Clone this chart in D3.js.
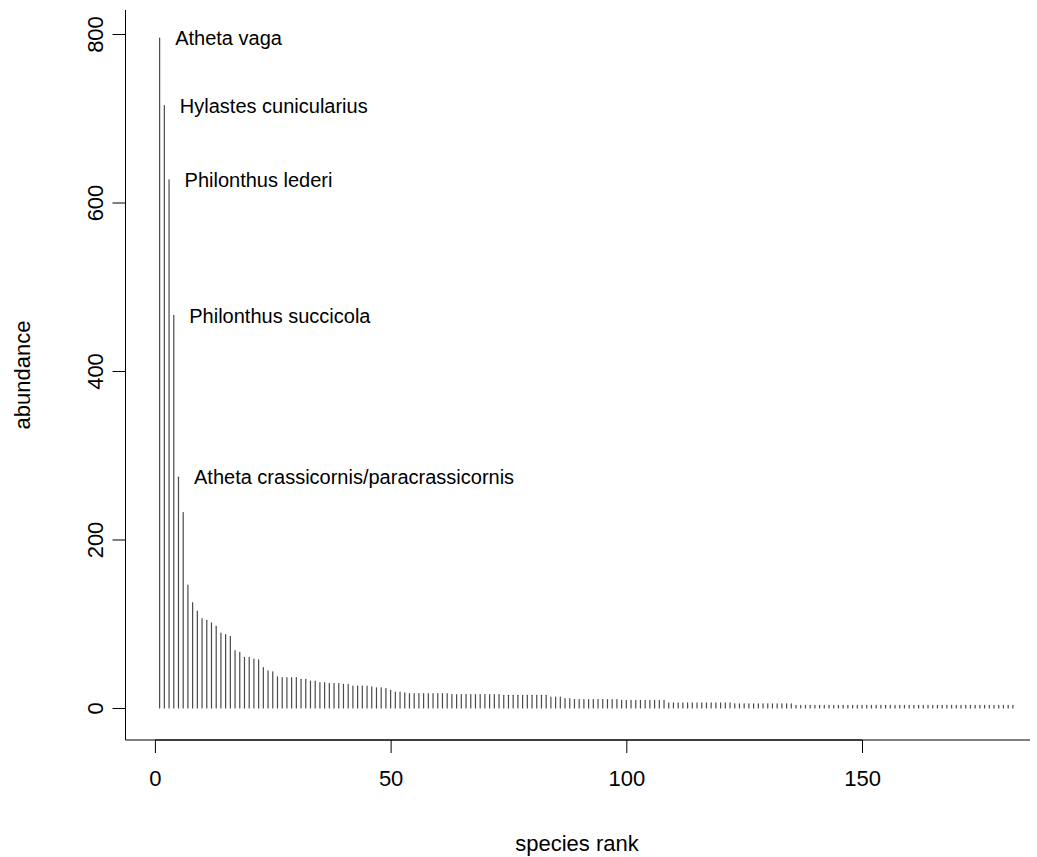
<!DOCTYPE html>
<html>
<head>
<meta charset="utf-8">
<script src="https://cdn.jsdelivr.net/npm/d3@7"></script>
<style>
  html, body { margin: 0; padding: 0; background: #fff; }
  svg { display: block; }
  text { font-family: "Liberation Sans", Arial, Helvetica, sans-serif; fill: #000; }
</style>
</head>
<body>
<svg id="chart" width="1037" height="857"></svg>
<script>
// ---- data ----
const abundance = [
  795, 715, 627, 466, 274, 232, 146, 125, 115, 106,
  104, 101, 97, 89, 87, 85, 68, 66, 60, 60,
  58, 57, 48, 44, 43, 37, 36, 36, 36, 36,
  34, 34, 32, 32, 30, 30, 29, 29, 29, 28,
  28, 26, 26, 26, 26, 25, 24, 24, 23, 21,
  19, 19, 18, 17, 17, 17, 17, 17, 17, 17,
  17, 17, 16, 16, 16, 16, 16, 16, 16, 16,
  16, 16, 16, 15, 15, 15, 15, 15, 15, 15,
  15, 15, 15, 13, 13, 13, 11, 11, 10, 10,
  10, 10, 10, 10, 10, 10, 10, 10, 9, 9,
  9, 9, 9, 9, 9, 9, 9, 9, 6, 6,
  6, 6, 6, 6, 6, 6, 6, 6, 6, 6,
  6, 6, 5, 5, 5, 5, 5, 5, 5, 5,
  5, 5, 5, 5, 5, 3, 3, 3, 3, 3,
  3, 3, 3, 3, 3, 3, 3, 3, 3, 3,
  3, 3, 3, 3, 3, 3, 3, 3, 3, 3,
  3, 3, 3, 3, 3, 3, 3, 3, 3, 3,
  3, 3, 3, 3, 3, 3, 3, 3, 3, 3,
  3, 3
];
const labelledSpecies = [
  "Atheta vaga",
  "Hylastes cunicularius",
  "Philonthus lederi",
  "Philonthus succicola",
  "Atheta crassicornis/paracrassicornis"
];
const xTicks = [0, 50, 100, 150];
const yTicks = [0, 200, 400, 600, 800];
const xTitle = "species rank";
const yTitle = "abundance";

// ---- layout ----
const W = 1037, H = 857;
const plot = { left: 125.5, right: 1047, top: 10, bottom: 740, boxRight: 1030 };
const svg = d3.select("#chart");

const ranks = abundance.map((d, i) => i + 1);
const xr = d3.extent(ranks);
const xpad = (xr[1] - xr[0]) * 0.04;
const x = d3.scaleLinear().domain([xr[0] - xpad, xr[1] + xpad]).range([plot.left, plot.right]);
const y = d3.scaleLinear().domain([-38, 828.5]).range([plot.bottom, plot.top]);

// bars (type = "h")
svg.append("g")
  .selectAll("line")
  .data(abundance)
  .join("line")
  .attr("x1", (d, i) => x(i + 1))
  .attr("x2", (d, i) => x(i + 1))
  .attr("y1", y(0))
  .attr("y2", d => y(d))
  .attr("stroke", "#4a4a4a")
  .attr("stroke-width", 1.2)
  .attr("stroke-linecap", "round");

// species labels
svg.append("g")
  .selectAll("text")
  .data(labelledSpecies)
  .join("text")
  .attr("x", (d, i) => x(i + 1) + 15.5)
  .attr("y", (d, i) => y(abundance[i]))
  .attr("dy", "0.36em")
  .attr("font-size", 20)
  .text(d => d);

// box (bty = "l")
svg.append("path")
  .attr("d", `M${plot.left},${plot.top}V${plot.bottom}H${plot.boxRight}`)
  .attr("fill", "none")
  .attr("stroke", "#000")
  .attr("stroke-width", 1);

const fs = 22;
const tickLen = 13;

// x axis
const gx = svg.append("g").attr("transform", `translate(0,${plot.bottom})`)
  .call(d3.axisBottom(x).tickValues(xTicks).tickSize(tickLen).tickPadding(17).tickFormat(d3.format("d")));
gx.select(".domain").remove();
gx.selectAll("line").attr("stroke", "#000");
gx.selectAll("text").attr("font-size", fs).attr("font-family", null).attr("fill", "#000");
svg.append("line")
  .attr("x1", x(xTicks[0])).attr("x2", x(xTicks[xTicks.length - 1]))
  .attr("y1", plot.bottom).attr("y2", plot.bottom)
  .attr("stroke", "#000");

// y axis
const gy = svg.append("g").attr("transform", `translate(${plot.left},0)`)
  .call(d3.axisLeft(y).tickValues(yTicks).tickSize(tickLen).tickFormat(d3.format("d")));
gy.select(".domain").remove();
gy.selectAll("line").attr("stroke", "#000");
gy.selectAll("text")
  .attr("font-size", fs).attr("font-family", null).attr("fill", "#000")
  .attr("x", null).attr("y", null)
  .attr("text-anchor", "middle")
  .attr("transform", `translate(${95 - plot.left},0) rotate(-90)`)
  .attr("dy", "0.36em");
svg.append("line")
  .attr("x1", plot.left).attr("x2", plot.left)
  .attr("y1", y(yTicks[0])).attr("y2", y(yTicks[yTicks.length - 1]))
  .attr("stroke", "#000");

// axis titles
svg.append("text")
  .attr("x", 577)
  .attr("y", 843)
  .attr("dy", "0.36em")
  .attr("text-anchor", "middle")
  .attr("font-size", fs)
  .text(xTitle);

svg.append("text")
  .attr("transform", `translate(22,${(plot.top + plot.bottom) / 2}) rotate(-90)`)
  .attr("dy", "0.36em")
  .attr("text-anchor", "middle")
  .attr("font-size", fs)
  .text(yTitle);
</script>
</body>
</html>
